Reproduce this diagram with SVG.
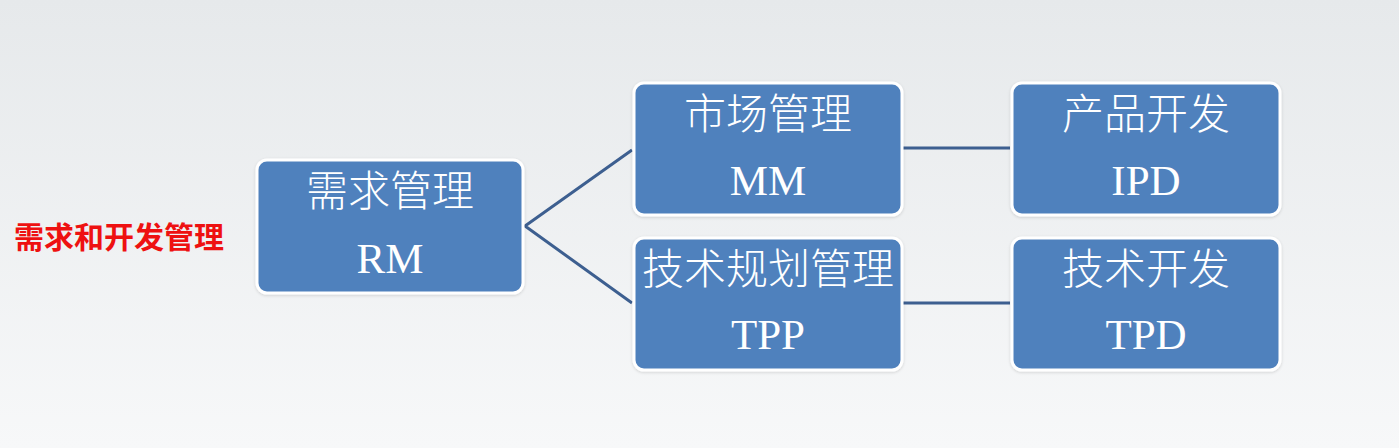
<svg xmlns="http://www.w3.org/2000/svg" width="1399" height="448" viewBox="0 0 1399 448">
<defs>
<linearGradient id="bg" x1="0" y1="0" x2="0" y2="1">
<stop offset="0" stop-color="#e6e9eb"/>
<stop offset="1" stop-color="#f7f8f9"/>
</linearGradient>
<filter id="sh" x="-10%" y="-10%" width="120%" height="120%">
<feDropShadow dx="0" dy="1" stdDeviation="1.5" flood-color="#000" flood-opacity="0.15"/>
</filter>
</defs>
<style>
.box{fill:#4f81bd;stroke:#ffffff;stroke-width:3;filter:url(#sh)}
.t{fill:#ffffff;font-family:"Liberation Serif","Noto Sans CJK SC",serif;font-size:42px;font-weight:300;text-anchor:middle}
.lat{font-size:43px}
.c{stroke:#3d5f90;stroke-width:3;fill:none}
.lbl{fill:#ee1111;font-family:"Noto Sans CJK SC",sans-serif;font-size:30px;font-weight:bold}
</style>
<rect x="0" y="0" width="1399" height="448" fill="url(#bg)"/>
<text class="lbl" x="14" y="248">需求和开发管理</text>
<g id="connectors">
<polyline class="c" points="632,150 525,226 632,303"/>
<line class="c" x1="903" y1="148" x2="1010" y2="148"/>
<line class="c" x1="903" y1="303" x2="1010" y2="303"/>
</g>
<g id="RM">
<rect class="box" x="257" y="160" width="266" height="133" rx="10"/>
<text class="t" x="390" y="206">需求管理</text>
<text class="t lat" x="390" y="273">RM</text>
</g>
<g id="MM">
<rect class="box" x="634" y="83" width="268" height="132" rx="10"/>
<text class="t" x="768" y="129">市场管理</text>
<text class="t lat" x="768" y="195">MM</text>
</g>
<g id="TPP">
<rect class="box" x="634" y="238" width="268" height="132" rx="10"/>
<text class="t" x="768" y="284">技术规划管理</text>
<text class="t lat" x="768" y="349">TPP</text>
</g>
<g id="IPD">
<rect class="box" x="1012" y="83" width="268" height="132" rx="10"/>
<text class="t" x="1146" y="129">产品开发</text>
<text class="t lat" x="1146" y="195">IPD</text>
</g>
<g id="TPD">
<rect class="box" x="1012" y="238" width="268" height="132" rx="10"/>
<text class="t" x="1146" y="284">技术开发</text>
<text class="t lat" x="1146" y="349">TPD</text>
</g>
</svg>
